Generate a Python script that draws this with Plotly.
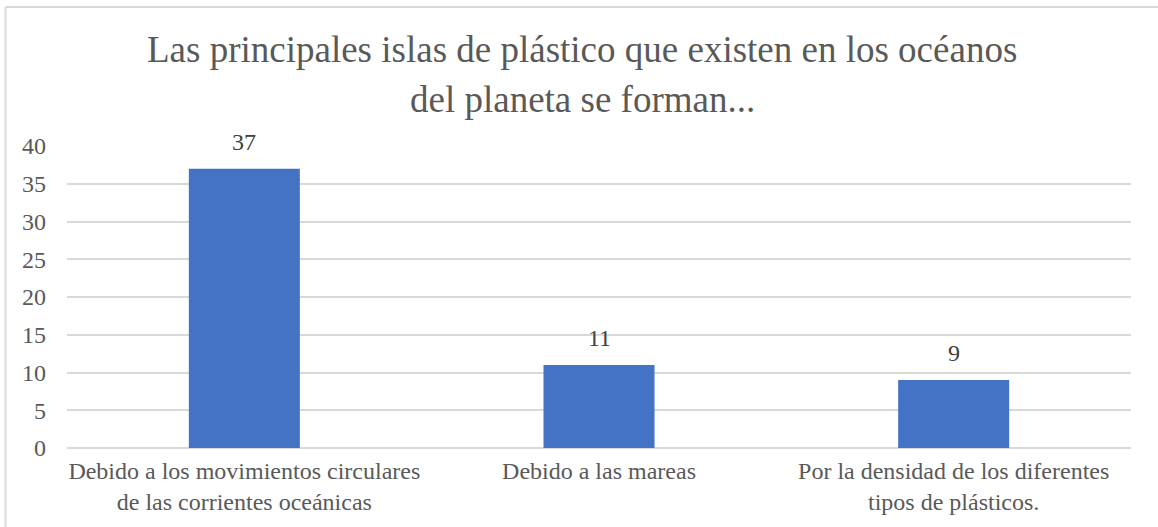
import plotly.graph_objects as go

categories = [
    "Debido a los movimientos circulares<br>de las corrientes oceánicas",
    "Debido a las mareas",
    "Por la densidad de los diferentes<br>tipos de plásticos.",
]
values = [37, 11, 9]
y_ticks = [0, 5, 10, 15, 20, 25, 30, 35, 40]

title_lines = [
    "Las principales islas de plástico que existen en los océanos",
    "del planeta se forman...",
]

SERIF = "Liberation Serif"
TEXT_GRAY = "#595959"
BAR_BLUE = "#4472C4"
GRID = "#d9d9d9"

# plot area in pixels
L, R, T, B = 67, 27, 146, 79
PW, PH = 1158 - L - R, 527 - T - B

fig = go.Figure(
    go.Bar(
        x=categories,
        y=values,
        marker=dict(color=BAR_BLUE, line=dict(width=0)),
        hoverinfo="x+y",
    )
)

# value labels above each bar
for cat, val in zip(categories, values):
    fig.add_annotation(
        x=cat, y=val, text=str(val), showarrow=False,
        yanchor="bottom", yshift=12,
        font=dict(family=SERIF, size=24, color="#404040"),
    )

# two-line title, each line placed on its own row
for i, line in enumerate(title_lines):
    fig.add_annotation(
        text=line, xref="paper", yref="paper",
        x=0.5 - 17 / PW, y=1 + (T - 49 - 50 * i) / PH,
        xanchor="center", yanchor="middle", showarrow=False,
        font=dict(family=SERIF, size=37, color=TEXT_GRAY),
    )

# chart frame: top and left edges
frame_top = 1 + (T - 7) / PH
frame_left = (5.5 - L) / PW
fig.add_shape(type="line", xref="paper", yref="paper",
              x0=frame_left, x1=1.05, y0=frame_top, y1=frame_top,
              line=dict(color=GRID, width=2))
fig.add_shape(type="line", xref="paper", yref="paper",
              x0=frame_left, x1=frame_left, y0=frame_top, y1=-0.5,
              line=dict(color=GRID, width=2))

fig.update_layout(
    width=1158, height=527,
    margin=dict(l=L, r=R, t=T, b=B),
    paper_bgcolor="white", plot_bgcolor="white",
    font=dict(family=SERIF, color=TEXT_GRAY),
    bargap=0.687,
    showlegend=False,
    xaxis=dict(
        showgrid=False, showline=False, zeroline=False,
        tickfont=dict(family=SERIF, size=24, color=TEXT_GRAY),
        ticks="", ticklabelstandoff=6, fixedrange=True,
    ),
    yaxis=dict(
        range=[0, 40], tickvals=y_ticks,
        showgrid=True, gridcolor=GRID, gridwidth=1.5,
        zeroline=True, zerolinecolor=GRID, zerolinewidth=1.5,
        showline=False, ticks="", ticklabelstandoff=20,
        tickfont=dict(family=SERIF, size=24, color=TEXT_GRAY),
        fixedrange=True,
    ),
)

fig.write_html("out.html")
